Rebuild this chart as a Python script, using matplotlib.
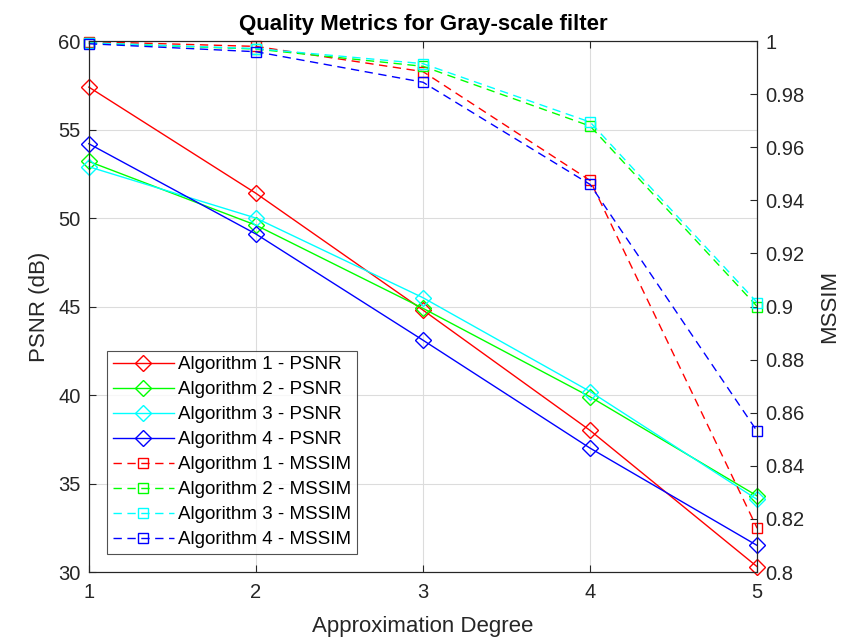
import matplotlib.pyplot as plt
import numpy as np

plt.rcParams["font.family"] = ["Liberation Sans", "DejaVu Sans"]

degree = [1, 2, 3, 4, 5]
algorithms = ["Algorithm 1", "Algorithm 2", "Algorithm 3", "Algorithm 4"]
colors = ["#ff0000", "#00ff00", "#00ffff", "#0000ff"]

psnr_alg1 = [57.4, 51.4, 44.8, 38.0, 30.3]
psnr_alg2 = [53.2, 49.6, 44.9, 39.9, 34.3]
psnr_alg3 = [52.9, 50.0, 45.5, 40.2, 34.1]
psnr_alg4 = [54.2, 49.1, 43.1, 37.0, 31.5]

mssim_alg1 = [0.9998, 0.9980, 0.9885, 0.9475, 0.8165]
mssim_alg2 = [0.9993, 0.9970, 0.9905, 0.9680, 0.9000]
mssim_alg3 = [0.9993, 0.9972, 0.9915, 0.9695, 0.9015]
mssim_alg4 = [0.9990, 0.9960, 0.9845, 0.9460, 0.8530]

psnr = [psnr_alg1, psnr_alg2, psnr_alg3, psnr_alg4]
mssim = [mssim_alg1, mssim_alg2, mssim_alg3, mssim_alg4]

fig = plt.figure(figsize=(8.46, 6.42), dpi=100)
ax = fig.add_axes([0.105, 0.109, 0.790, 0.827])
ax2 = ax.twinx()

handles = []
for name, c, y in zip(algorithms, colors, psnr):
    (h,) = ax.plot(degree, y, color=c, lw=1, marker="D", ms=8.5, mfc="none",
                   mew=1, clip_on=False, label=f"{name} - PSNR")
    handles.append(h)
for name, c, y in zip(algorithms, colors, mssim):
    (h,) = ax2.plot(degree, y, color=c, lw=1, ls=(0, (6, 4)), marker="s", ms=7,
                    mfc="none", mew=1, clip_on=False, label=f"{name} - MSSIM")
    handles.append(h)

ax.set_xlim(1, 5)
ax.set_ylim(30, 60)
ax2.set_ylim(0.8, 1.0)
ax.set_xticks(degree)
ax.set_yticks(np.arange(30, 61, 5))
ax2.set_yticks(np.arange(0.80, 1.001, 0.02))
ax2.set_yticklabels(["0.8", "0.82", "0.84", "0.86", "0.88", "0.9",
                     "0.92", "0.94", "0.96", "0.98", "1"])

ax.grid(True, color="#dcdcdc", lw=0.8)
ax.set_axisbelow(True)
for a in (ax, ax2):
    a.tick_params(direction="in", labelsize=14.5, colors="#262626", length=5,
                  pad=6)
    for s in a.spines.values():
        s.set_color("#262626")
ax.tick_params(axis="x", top=True, pad=8)

ax.set_xlabel("Approximation Degree", fontsize=16, color="#262626", labelpad=10)
ax.set_ylabel("PSNR (dB)", fontsize=16, color="#262626", labelpad=6)
ax2.set_ylabel("MSSIM", fontsize=16, color="#262626", labelpad=10)
ax.set_title("Quality Metrics for Gray-scale filter", fontsize=16,
             fontweight="bold", color="black", pad=8)

leg = ax2.legend(handles=handles, loc="lower left", bbox_to_anchor=(0.027, 0.034),
                 fontsize=13.5, frameon=True, fancybox=False, edgecolor="#262626",
                 handlelength=3.3, labelspacing=0.42, borderpad=0.3,
                 handletextpad=0.2, borderaxespad=0)
leg.get_frame().set_linewidth(0.8)

fig.savefig("out.png", dpi=100)
